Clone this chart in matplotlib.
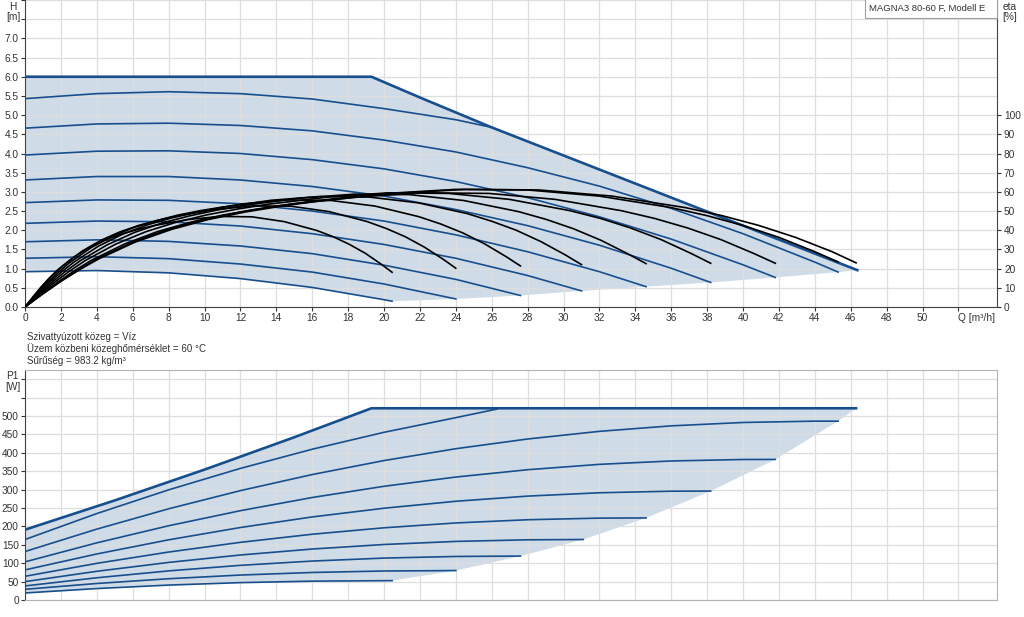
import numpy as np
import matplotlib
matplotlib.use("Agg")
import matplotlib.pyplot as plt
from matplotlib.patches import Rectangle

plt.rcParams['font.family'] = ['Liberation Sans', 'DejaVu Sans']

# ---- data ----
# limit curve H(Q)
max_q = [0, 19.3, 22.1, 26.0, 36.5, 46.37]
max_h = [6.0, 6.0, 5.44, 4.68, 2.76, 0.96]

# speed curves H(Q), highest first
h_q = [
    [0, 4, 8, 12, 16, 20, 24, 26.0],
    [0, 4, 8, 12, 16, 20, 24, 28, 32, 36, 40, 44, 45.3],
    [0, 4, 8, 12, 16, 20, 24, 28, 32, 36, 40, 41.8],
    [0, 4, 8, 12, 16, 20, 24, 28, 32, 36, 38.2],
    [0, 4, 8, 12, 16, 20, 24, 28, 32, 34.6],
    [0, 4, 8, 12, 16, 20, 24, 28, 31.0],
    [0, 4, 8, 12, 16, 20, 24, 27.6],
    [0, 4, 8, 12, 16, 20, 24.0],
    [0, 4, 8, 12, 16, 20, 20.45],
]
h_v = [
    [5.43, 5.56, 5.61, 5.56, 5.42, 5.17, 4.88, 4.68],
    [4.66, 4.77, 4.79, 4.73, 4.59, 4.35, 4.04, 3.63, 3.15, 2.57, 1.91, 1.17, 0.91],
    [3.96, 4.06, 4.07, 4.00, 3.84, 3.60, 3.27, 2.85, 2.35, 1.77, 1.10, 0.77],
    [3.31, 3.40, 3.40, 3.31, 3.14, 2.89, 2.54, 2.12, 1.61, 1.01, 0.64],
    [2.72, 2.79, 2.78, 2.69, 2.50, 2.24, 1.88, 1.44, 0.92, 0.53],
    [2.18, 2.24, 2.22, 2.11, 1.91, 1.63, 1.27, 0.82, 0.42],
    [1.70, 1.75, 1.71, 1.59, 1.39, 1.09, 0.72, 0.30],
    [1.27, 1.31, 1.26, 1.12, 0.91, 0.60, 0.21],
    [0.92, 0.95, 0.89, 0.74, 0.51, 0.19, 0.15],
]

# efficiency curves eta(Q) in %, right axis
eta_q = [
    [0, 1.02, 2.04, 3.07, 4.09, 6.13, 8.18, 10.22, 12.26, 14.31, 16.35, 20.44, 24.53, 28.62, 32.7, 36.79, 38.84, 40.88, 42.92, 44.97, 46.3],
    [0, 1, 2, 3, 4, 6, 8, 10, 12, 14, 16, 20, 24, 28, 32, 36, 38, 40, 42, 44, 45.3],
    [0, 0.92, 1.85, 2.77, 3.69, 5.54, 7.38, 9.23, 11.07, 12.92, 14.76, 18.45, 22.14, 25.84, 29.53, 33.22, 35.06, 36.91, 38.75, 40.6, 41.8],
    [0, 0.84, 1.69, 2.53, 3.37, 5.06, 6.75, 8.43, 10.12, 11.81, 13.49, 16.87, 20.24, 23.61, 26.99, 30.36, 32.05, 33.73, 35.42, 37.11, 38.2],
    [0, 0.76, 1.53, 2.29, 3.06, 4.58, 6.11, 7.64, 9.17, 10.69, 12.22, 15.28, 18.33, 21.39, 24.44, 27.5, 29.02, 30.55, 32.08, 33.61, 34.6],
    [0, 0.68, 1.37, 2.05, 2.74, 4.11, 5.47, 6.84, 8.21, 9.58, 10.95, 13.69, 16.42, 19.16, 21.9, 24.63, 26.0, 27.37, 28.74, 30.11, 31.0],
    [0, 0.61, 1.22, 1.83, 2.44, 3.66, 4.87, 6.09, 7.31, 8.53, 9.75, 12.19, 14.62, 17.06, 19.5, 21.93, 23.15, 24.37, 25.59, 26.81, 27.6],
    [0, 0.53, 1.06, 1.59, 2.12, 3.18, 4.24, 5.3, 6.36, 7.42, 8.48, 10.6, 12.72, 14.83, 16.95, 19.07, 20.13, 21.19, 22.25, 23.31, 24.0],
    [0, 0.45, 0.9, 1.35, 1.81, 2.71, 3.61, 4.51, 5.42, 6.32, 7.22, 9.03, 10.83, 12.64, 14.44, 16.25, 17.15, 18.06, 18.96, 19.86, 20.45],
]
eta_v = [
    [0, 7.0, 13.6, 19.6, 25.0, 33.8, 40.5, 45.6, 49.5, 52.6, 55.2, 59.1, 61.3, 61.0, 57.8, 51.8, 47.6, 42.5, 36.3, 28.8, 23.0],
    [0, 7.0, 13.6, 19.6, 25.0, 33.8, 40.5, 45.6, 49.5, 52.6, 55.2, 59.1, 61.3, 61.0, 57.8, 51.8, 47.6, 42.5, 36.3, 28.8, 23.5],
    [0, 6.8, 13.2, 19.0, 24.3, 32.8, 39.3, 44.2, 48.0, 51.0, 53.5, 57.3, 59.5, 59.2, 56.1, 50.2, 46.2, 41.2, 35.2, 27.9, 22.8],
    [0, 6.8, 13.2, 19.0, 24.3, 32.8, 39.3, 44.2, 48.0, 51.0, 53.5, 57.3, 59.5, 59.2, 56.1, 50.2, 46.2, 41.2, 35.2, 27.9, 22.8],
    [0, 6.7, 13.1, 18.8, 24.0, 32.4, 38.9, 43.8, 47.5, 50.5, 53.0, 56.7, 58.8, 58.6, 55.5, 49.7, 45.7, 40.8, 34.8, 27.6, 22.6],
    [0, 6.6, 12.8, 18.4, 23.5, 31.8, 38.1, 42.9, 46.5, 49.4, 51.9, 55.6, 57.6, 57.3, 54.3, 48.7, 44.7, 40.0, 34.1, 27.1, 22.1],
    [0, 6.4, 12.4, 17.8, 22.8, 30.8, 36.9, 41.5, 45.0, 47.9, 50.2, 53.8, 55.8, 55.5, 52.6, 47.1, 43.3, 38.7, 33.0, 26.2, 21.4],
    [0, 6.0, 11.7, 16.9, 21.5, 29.1, 34.8, 39.2, 42.6, 45.2, 47.5, 50.8, 52.7, 52.5, 49.7, 44.5, 40.9, 36.6, 31.2, 24.8, 20.2],
    [0, 5.4, 10.5, 15.1, 19.3, 26.0, 31.2, 35.1, 38.1, 40.5, 42.5, 45.5, 47.2, 47.0, 44.5, 39.9, 36.7, 32.7, 28.0, 22.2, 18.1],
]

# power P1(Q) in W
pmax_q = [0, 5, 10, 15, 19.3, 46.3]
pmax_v = [191, 270.6, 354.3, 442.2, 521, 521]

p_q = [
    [0, 4, 8, 12, 16, 20, 24, 26.3],
    [0, 4, 8, 12, 16, 20, 24, 28, 32, 36, 40, 44, 45.3],
    [0, 4, 8, 12, 16, 20, 24, 28, 32, 36, 40, 41.8],
    [0, 4, 8, 12, 16, 20, 24, 28, 32, 36, 38.2],
    [0, 4, 8, 12, 16, 20, 24, 28, 32, 34.6],
    [0, 4, 8, 12, 16, 20, 24, 28, 31.1],
    [0, 4, 8, 12, 16, 20, 24, 27.6],
    [0, 4, 8, 12, 16, 20, 24.0],
    [0, 4, 8, 12, 16, 20.45],
]
p_v = [
    [164.4, 234.9, 299.3, 357.6, 409.7, 455.7, 495.5, 519],
    [131.7, 192.6, 247.8, 297.2, 340.9, 378.9, 411.1, 437.5, 458.3, 473.2, 482.4, 486.0, 486.0],
    [103.6, 155.3, 201.7, 242.7, 278.5, 309.0, 334.1, 354.0, 368.6, 377.8, 381.8, 382.0],
    [81.8, 125.1, 163.5, 197.0, 225.7, 249.4, 268.3, 282.3, 291.4, 295.7, 296.0],
    [64.4, 99.6, 130.3, 156.7, 178.7, 196.2, 209.4, 218.1, 222.5, 223.0],
    [49.9, 78.0, 102.1, 122.3, 138.5, 150.8, 159.2, 163.6, 164.4],
    [38.2, 60.4, 79.1, 94.2, 105.8, 113.9, 118.3, 119.4],
    [29.1, 44.9, 57.8, 67.8, 74.8, 78.8, 80.0],
    [19.1, 31.1, 40.5, 47.2, 51.2, 52.6],
]

info_lines = ["Szivattyúzott közeg = Víz",
              "Üzem közbeni közeghőmérséklet = 60 °C",
              "Sűrűség = 983.2 kg/m³"]

BLUE = '#174f8e'
FILL = '#cfdbe7'
GRID = '#dedede'
TXT = '#333333'
FS = 7.0
TFS = 7.3
W, H = 1024, 617

def fx(px):
    return px / W

def fy(py):
    return 1 - py / H

fig = plt.figure(figsize=(10.24, 6.17), dpi=100)

# ---------- top: head + efficiency ----------
ax = fig.add_axes([fx(25), fy(307), (997 - 25) / W, 307 / H])
ax.set_xlim(0, 54.15)
ax.set_ylim(0, 8)
ax.set_axisbelow(True)
ax.set_xticks(np.arange(0, 54, 2))
ax.set_xticklabels([str(v) if v <= 50 else '' for v in range(0, 54, 2)])
ax.set_yticks(np.arange(0, 8.01, 0.5))
ax.set_yticklabels([f"{v:.1f}" if v <= 7.0 else '' for v in np.arange(0, 8.01, 0.5)])
ax.grid(True, color=GRID, linewidth=0.9)
ax.tick_params(axis='both', labelsize=TFS, length=3, width=0.8, pad=1.5, colors=TXT)
ax.spines['top'].set_visible(False)
ax.spines['right'].set_visible(False)
for s in ['left', 'bottom']:
    ax.spines[s].set_color('#444444')
ax.yaxis.get_major_ticks()[-1].tick1line.set_visible(False)

# shaded operating area
fill_q = list(max_q) + [q[-1] for q in h_q[1:]] + list(h_q[-1][::-1])
fill_h = list(max_h) + [v[-1] for v in h_v[1:]] + list(h_v[-1][::-1])
ax.fill(fill_q, fill_h, color=FILL, zorder=0.2, linewidth=0)

for q, v in zip(h_q, h_v):
    ax.plot(q, v, color=BLUE, linewidth=1.2, zorder=2)
ax.plot(max_q, max_h, color=BLUE, linewidth=1.9, zorder=2.5)

ax2 = ax.twinx()
ax2.set_ylim(0, 160)
ax2.set_yticks(np.arange(0, 101, 10))
ax2.tick_params(axis='y', labelsize=TFS, length=3, width=0.8, pad=2, colors=TXT)
for s in ['top', 'left', 'bottom']:
    ax2.spines[s].set_visible(False)
ax2.spines['right'].set_color('#444444')
for q, v in zip(eta_q, eta_v):
    ax2.plot(q, v, color='black', linewidth=1.2, zorder=3)

ax.text(53.0, -0.036, "Q [m³/h]", transform=ax.get_xaxis_transform(),
        ha='center', va='center', fontsize=TFS, color=TXT)

fig.text(fx(13), fy(6.5), "H", ha='center', va='center', fontsize=TFS, color=TXT)
fig.text(fx(13), fy(17.5), "[m]", ha='center', va='center', fontsize=TFS, color=TXT)
fig.text(fx(1010), fy(6.5), "eta", ha='center', va='center', fontsize=TFS, color=TXT)
fig.text(fx(1010), fy(17), "[%]", ha='center', va='center', fontsize=TFS, color=TXT)

# model box
fig.patches.append(Rectangle((fx(865), fy(18)), (997 - 865) / W, 20 / H,
                             transform=fig.transFigure, facecolor='white',
                             edgecolor='#a0a0a0', linewidth=0.8, zorder=5))
fig.text(fx(869), fy(8), "MAGNA3 80-60 F, Modell E", ha='left', va='center',
         fontsize=6.8, color=TXT, zorder=6)

# medium info
for i, line in enumerate(info_lines):
    fig.text(fx(27), fy(337 + i * 12), line, ha='left', va='center',
             fontsize=FS, color=TXT)

# ---------- bottom: power ----------
axp = fig.add_axes([fx(25), fy(600), (997 - 25) / W, 230 / H])
axp.set_xlim(0, 54.15)
axp.set_ylim(0, 625)
axp.set_axisbelow(True)
axp.set_xticks(np.arange(0, 54, 2))
axp.set_xticklabels([])
axp.tick_params(axis='x', length=0)
axp.set_yticks(np.arange(0, 601, 50))
axp.set_yticklabels([str(v) if v <= 500 else '' for v in range(0, 601, 50)])
axp.tick_params(axis='y', labelsize=TFS, length=3, width=0.8, pad=1.5, colors=TXT)
axp.grid(True, color=GRID, linewidth=0.9)
for s in ['top', 'right', 'bottom']:
    axp.spines[s].set_color('#b4b4b4')
axp.spines['left'].set_color('#444444')

pfill_q = list(pmax_q) + [q[-1] for q in p_q[1:]] + list(p_q[-1][::-1])
pfill_v = list(pmax_v) + [v[-1] for v in p_v[1:]] + list(p_v[-1][::-1])
axp.fill(pfill_q, pfill_v, color=FILL, zorder=0.2, linewidth=0)
for q, v in zip(p_q, p_v):
    axp.plot(q, v, color=BLUE, linewidth=1.2, zorder=2)
axp.plot(pmax_q, pmax_v, color=BLUE, linewidth=1.9, zorder=2.5)

fig.text(fx(12), fy(376), "P1", ha='center', va='center', fontsize=TFS, color=TXT)
fig.text(fx(12.5), fy(387), "[W]", ha='center', va='center', fontsize=TFS, color=TXT)

fig.savefig("out.png", dpi=100)
